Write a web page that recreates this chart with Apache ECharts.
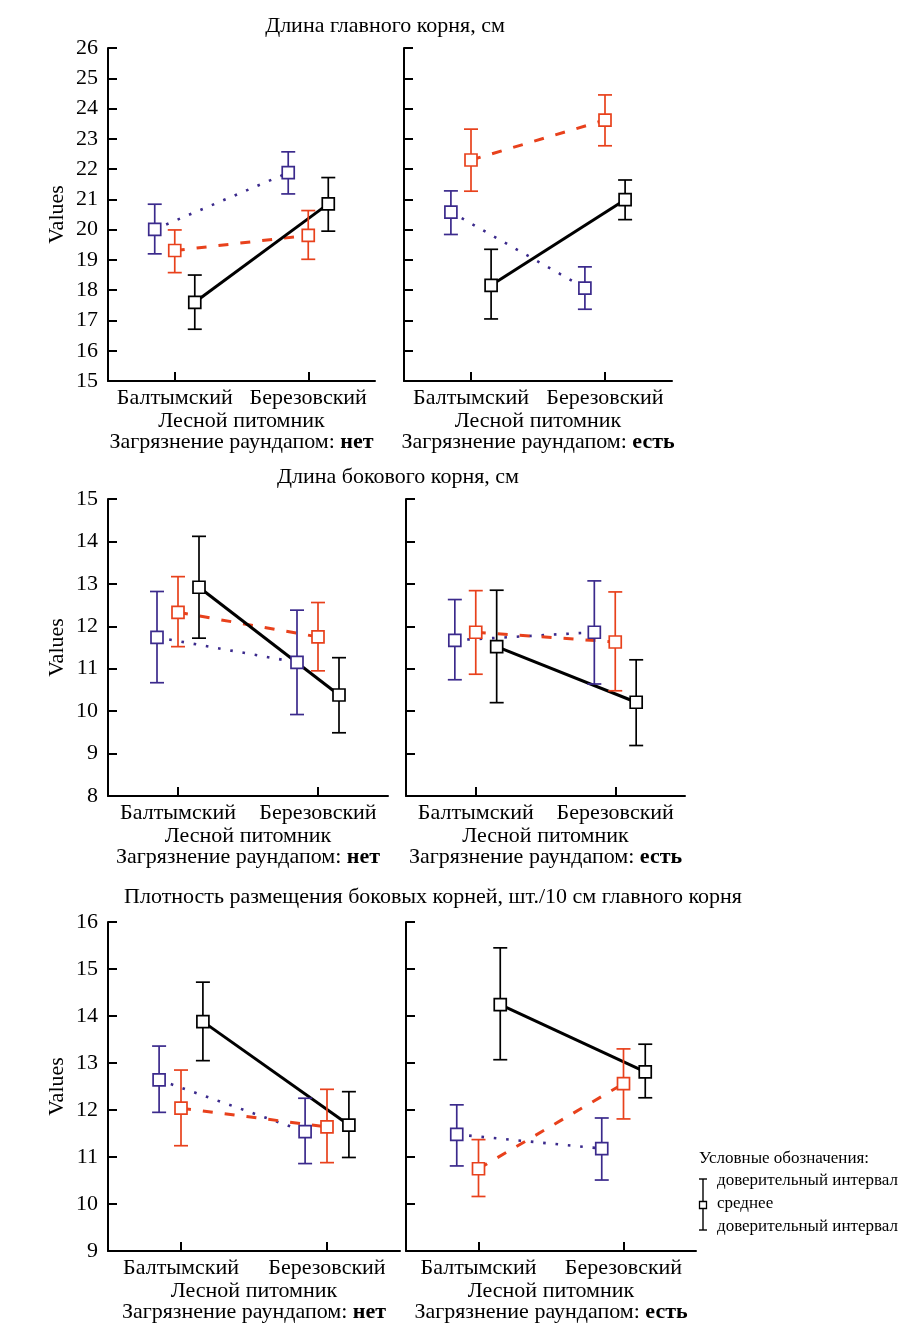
<!DOCTYPE html>
<html>
<head>
<meta charset="utf-8">
<script src="https://cdn.jsdelivr.net/npm/echarts@6/dist/echarts.min.js"></script>
<style>
  html, body { margin: 0; padding: 0; background: #fff; }
  #chart { width: 915px; height: 1330px; }
</style>
</head>
<body>
<div id="chart"></div>
<script>
// ---------- DATA ----------
const categories = ['Балтымский', 'Березовский'];
const pollution = ['нет', 'есть'];
const chartTitles = [
  'Длина главного корня, см',
  'Длина бокового корня, см',
  'Плотность размещения боковых корней, шт./10 см главного корня'
];
const yRange1 = [15, 26];
const yRange2 = [8, 15];
const yRange3 = [9, 16];

// group order in each array: [blue dotted, red dashed, black solid]; inner: [Балтымский, Березовский]
// Panel 1: Длина главного корня, загрязнение: нет
const p1Mean = [[20.01, 21.88], [19.31, 19.81], [17.60, 20.85]];
const p1Low  = [[19.20, 21.18], [18.58, 19.02], [16.71, 19.95]];
const p1High = [[20.84, 22.57], [19.99, 20.63], [18.50, 21.72]];
// Panel 2: Длина главного корня, загрязнение: есть
const p2Mean = [[20.58, 18.07], [22.30, 23.62], [18.16, 20.99]];
const p2Low  = [[19.84, 17.37], [21.27, 22.77], [17.05, 20.33]];
const p2High = [[21.28, 18.77], [23.32, 24.45], [19.35, 21.64]];
// Panel 3: Длина бокового корня, нет
const p3Mean = [[11.74, 11.15], [12.33, 11.75], [12.92, 10.38]];
const p3Low  = [[10.67, 9.92], [11.52, 10.95], [11.72, 9.49]];
const p3High = [[12.82, 12.38], [13.17, 12.56], [14.12, 11.26]];
// Panel 4: Длина бокового корня, есть
const p4Mean = [[11.67, 11.86], [11.86, 11.63], [11.52, 10.21]];
const p4Low  = [[10.74, 10.64], [10.87, 10.48], [10.20, 9.19]];
const p4High = [[12.63, 13.07], [12.84, 12.81], [12.85, 11.21]];
// Panel 5: Плотность, нет
const p5Mean = [[12.64, 11.54], [12.04, 11.64], [13.88, 11.68]];
const p5Low  = [[11.95, 10.86], [11.24, 10.88], [13.05, 10.99]];
const p5High = [[13.36, 12.25], [12.85, 12.44], [14.72, 12.39]];
// Panel 6: Плотность, есть
const p6Mean = [[11.48, 11.18], [10.75, 12.56], [14.24, 12.81]];
const p6Low  = [[10.81, 10.51], [10.16, 11.81], [13.07, 12.26]];
const p6High = [[12.11, 11.83], [11.37, 13.30], [15.45, 13.40]];

const legendTitle = 'Условные обозначения:';
const legendLabels = ['доверительный интервал', 'среднее', 'доверительный интервал'];

// ---------- STYLE / LAYOUT ----------
const FONT = '"Liberation Serif", "Times New Roman", serif';
const FS = 22;
const colors = ['#3b2a8c', '#e8411c', '#000000'];
const offsets = [-0.3, 0, 0.3];
const lineStyles = [
  { type: [2.6, 9.8], width: 2.6 },
  { type: [10, 12], width: 3 },
  { type: 'solid', width: 3 }
];

const panels = [
  { mean: p1Mean, low: p1Low, high: p1High, range: yRange1, pol: 0, grid: { left: 108, top: 48, width: 267, height: 333 } },
  { mean: p2Mean, low: p2Low, high: p2High, range: yRange1, pol: 1, grid: { left: 404, top: 48, width: 268, height: 333 } },
  { mean: p3Mean, low: p3Low, high: p3High, range: yRange2, pol: 0, grid: { left: 108, top: 499, width: 280, height: 297 } },
  { mean: p4Mean, low: p4Low, high: p4High, range: yRange2, pol: 1, grid: { left: 406, top: 499, width: 279, height: 297 } },
  { mean: p5Mean, low: p5Low, high: p5High, range: yRange3, pol: 0, grid: { left: 108, top: 922, width: 292, height: 329 } },
  { mean: p6Mean, low: p6Low, high: p6High, range: yRange3, pol: 1, grid: { left: 406, top: 922, width: 290, height: 329 } }
];

const grids = [], xAxes = [], yAxes = [], series = [];

panels.forEach((p, i) => {
  const isLeft = i % 2 === 0;
  grids.push(Object.assign({ containLabel: false }, p.grid));
  xAxes.push({
    gridIndex: i, type: 'value', min: 0, max: 4, interval: 1,
    splitLine: { show: false },
    axisLine: { lineStyle: { color: '#000', width: 2 } },
    axisTick: { customValues: [1, 3], inside: true, length: 9, lineStyle: { color: '#000', width: 2 } },
    axisLabel: {
      customValues: [1, 3], margin: 6, color: '#000', fontFamily: FONT, fontSize: FS,
      formatter: v => categories[(v - 1) / 2]
    },
    name: 'Лесной питомник\n{n|Загрязнение раундапом: }{b|' + pollution[p.pol] + '}',
    nameLocation: 'middle', nameGap: 28,
    nameTextStyle: {
      color: '#000', fontFamily: FONT, fontSize: FS, lineHeight: 21,
      rich: {
        n: { color: '#000', fontFamily: FONT, fontSize: FS, lineHeight: 21 },
        b: { color: '#000', fontFamily: FONT, fontSize: FS, lineHeight: 21, fontWeight: 'bold' }
      }
    }
  });
  yAxes.push({
    gridIndex: i, type: 'value', min: p.range[0], max: p.range[1], interval: 1,
    splitLine: { show: false },
    axisLine: { show: true, lineStyle: { color: '#000', width: 2 } },
    axisTick: { show: true, inside: true, length: 9, lineStyle: { color: '#000', width: 2 } },
    axisLabel: { show: isLeft, color: '#000', fontFamily: FONT, fontSize: FS, margin: 10 },
    name: isLeft ? 'Values' : '',
    nameLocation: 'middle', nameGap: 40, nameRotate: 90,
    nameTextStyle: { color: '#000', fontFamily: FONT, fontSize: FS }
  });

  for (let g = 0; g < 3; g++) {
    const pts = categories.map((c, k) => [1 + 2 * k + offsets[g], p.mean[g][k]]);
    // connecting line
    series.push({
      type: 'line', xAxisIndex: i, yAxisIndex: i, data: pts,
      symbol: 'none', silent: true, z: 1,
      lineStyle: Object.assign({ color: colors[g] }, lineStyles[g])
    });
    // error bars
    series.push({
      type: 'custom', xAxisIndex: i, yAxisIndex: i, z: 2, silent: true,
      data: categories.map((c, k) => [1 + 2 * k + offsets[g], p.low[g][k], p.high[g][k]]),
      encode: { x: 0, y: [1, 2] },
      renderItem: (params, api) => {
        const x = api.value(0);
        const lo = api.coord([x, api.value(1)]);
        const hi = api.coord([x, api.value(2)]);
        const hw = 7;
        const st = { stroke: colors[g], lineWidth: 1.7 };
        return {
          type: 'group',
          children: [
            { type: 'line', shape: { x1: lo[0], y1: lo[1], x2: hi[0], y2: hi[1] }, style: st },
            { type: 'line', shape: { x1: lo[0] - hw, y1: lo[1], x2: lo[0] + hw, y2: lo[1] }, style: st },
            { type: 'line', shape: { x1: hi[0] - hw, y1: hi[1], x2: hi[0] + hw, y2: hi[1] }, style: st }
          ]
        };
      }
    });
    // mean markers
    series.push({
      type: 'scatter', xAxisIndex: i, yAxisIndex: i, data: pts, z: 3, silent: true,
      symbol: 'rect', symbolSize: 12,
      itemStyle: { color: '#fff', borderColor: colors[g], borderWidth: 1.7, opacity: 1 }
    });
  }
});

const titleStyle = { color: '#000', fontFamily: FONT, fontSize: FS, fontWeight: 'normal' };
const titles = [
  { text: chartTitles[0], left: 385, top: 15 },
  { text: chartTitles[1], left: 398, top: 466 },
  { text: chartTitles[2], left: 433, top: 886 }
].map(t => ({ text: t.text, left: t.left, top: t.top, textAlign: 'center', padding: 0, textStyle: titleStyle }));

const legendFont = { fontFamily: FONT, fontSize: 17, fill: '#000' };
const graphic = [
  { type: 'text', left: 699, top: 1150, style: Object.assign({ text: legendTitle }, legendFont) },
  { type: 'line', shape: { x1: 703, y1: 1179, x2: 703, y2: 1230 }, style: { stroke: '#000', lineWidth: 1.4 } },
  { type: 'line', shape: { x1: 699, y1: 1179, x2: 707, y2: 1179 }, style: { stroke: '#000', lineWidth: 1.4 } },
  { type: 'line', shape: { x1: 699, y1: 1230, x2: 707, y2: 1230 }, style: { stroke: '#000', lineWidth: 1.4 } },
  { type: 'rect', shape: { x: 699.5, y: 1201.5, width: 7, height: 7 }, style: { fill: '#fff', stroke: '#000', lineWidth: 1.3 } },
  { type: 'text', left: 717, top: 1172, style: Object.assign({ text: legendLabels[0] }, legendFont) },
  { type: 'text', left: 717, top: 1195, style: Object.assign({ text: legendLabels[1] }, legendFont) },
  { type: 'text', left: 717, top: 1218, style: Object.assign({ text: legendLabels[2] }, legendFont) }
];

const chart = echarts.init(document.getElementById('chart'), null, { renderer: 'canvas' });
chart.setOption({
  backgroundColor: '#fff',
  animation: false,
  title: titles,
  grid: grids,
  xAxis: xAxes,
  yAxis: yAxes,
  series: series,
  graphic: graphic
});
</script>
</body>
</html>
